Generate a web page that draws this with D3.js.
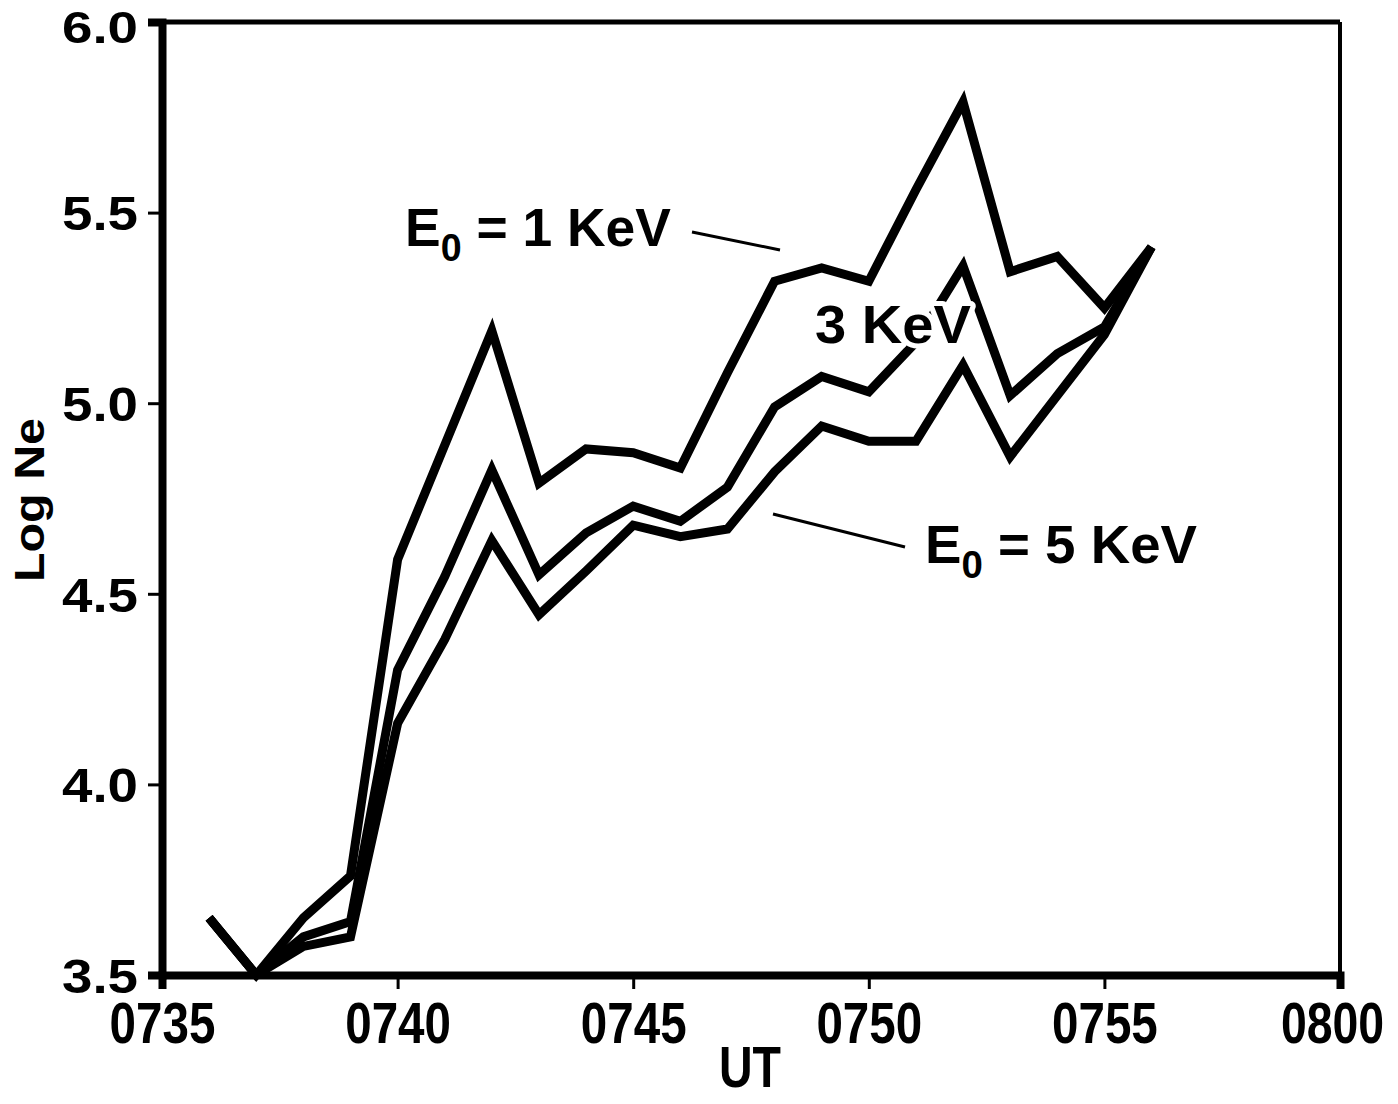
<!DOCTYPE html>
<html>
<head>
<meta charset="utf-8">
<script src="https://cdn.jsdelivr.net/npm/d3@7"></script>
<style>
  html, body { margin: 0; padding: 0; background: #fff; }
  svg text { font-family: "Liberation Sans", Arial, Helvetica, sans-serif; font-weight: bold; fill: #000; }
</style>
</head>
<body>
<svg id="chart" width="1398" height="1104"></svg>
<script>
// Minutes after 0735 UT
const times = [1, 2, 3, 4, 5, 6, 7, 8, 9, 10, 11, 12, 13, 14, 15, 16, 17, 18, 19, 20, 21];
const ne1keV = [3.65, 3.50, 3.65, 3.76, 4.59, 4.89, 5.19, 4.79, 4.88, 4.87, 4.83, 5.08, 5.32, 5.355, 5.32, 5.56, 5.79, 5.345, 5.385, 5.25, 5.41];
const ne3keV = [3.65, 3.50, 3.60, 3.64, 4.30, 4.545, 4.825, 4.55, 4.66, 4.73, 4.69, 4.78, 4.99, 5.07, 5.03, 5.16, 5.36, 5.02, 5.13, 5.20, 5.41];
const ne5keV = [3.65, 3.50, 3.575, 3.60, 4.16, 4.38, 4.64, 4.445, 4.56, 4.68, 4.65, 4.67, 4.82, 4.94, 4.90, 4.90, 5.10, 4.86, 5.02, 5.18, 5.41];
const xTickValues = [0, 5, 10, 15, 20, 25];
const xTickLabels = ["0735", "0740", "0745", "0750", "0755", "0800"];
const yTickValues = [3.5, 4.0, 4.5, 5.0, 5.5, 6.0];
const yTickLabels = ["3.5", "4.0", "4.5", "5.0", "5.5", "6.0"];

const svg = d3.select("#chart");
const L = 162, R = 1340, T = 22, B = 975;
const x = d3.scaleLinear().domain([0, 25]).range([L, R]);
const y = d3.scaleLinear().domain([3.5, 6.0]).range([B, T]);

// data lines
const line = d3.line().x((d, i) => x(times[i])).y(d => y(d));
[ne5keV, ne3keV, ne1keV].forEach(s => {
  svg.append("path").attr("d", line(s))
    .attr("fill", "none").attr("stroke", "#000")
    .attr("stroke-width", 9).attr("stroke-linejoin", "miter").attr("stroke-miterlimit", 6);
});

// frame
svg.append("line").attr("x1", L).attr("x2", R).attr("y1", T).attr("y2", T).attr("stroke", "#000").attr("stroke-width", 5);
svg.append("line").attr("x1", R).attr("x2", R).attr("y1", T).attr("y2", B).attr("stroke", "#000").attr("stroke-width", 4);

// axes
const xAxis = d3.axisBottom(x).tickValues(xTickValues).tickFormat((d, i) => xTickLabels[i]).tickSize(14).tickPadding(14);
const gx = svg.append("g").attr("transform", `translate(0,${B})`).call(xAxis);
gx.select(".domain").attr("stroke", "#000").attr("stroke-width", 8);
gx.selectAll(".tick line").attr("stroke", "#000").attr("stroke-width", 3);
gx.selectAll(".tick text")
  .attr("font-size", 58).attr("dy", "0.69em")
  .attr("transform", (d, i) => i === 5 ? "translate(-8,0) scale(0.8,1)" : "scale(0.82,1)")
  .style("font-family", '"Liberation Sans", Arial, sans-serif').style("font-weight", "bold").attr("fill", "#000");

const yAxis = d3.axisLeft(y).tickValues(yTickValues).tickFormat((d, i) => yTickLabels[i]).tickSize(14).tickPadding(10);
const gy = svg.append("g").attr("transform", `translate(${L},0)`).call(yAxis);
gy.select(".domain").attr("stroke", "#000").attr("stroke-width", 8);
gy.selectAll(".tick line").attr("stroke", "#000").attr("stroke-width", 3);
gy.selectAll(".tick text")
  .attr("font-size", 48).attr("dy", "0.36em")
  .attr("textLength", 76).attr("lengthAdjust", "spacingAndGlyphs")
  .style("font-family", '"Liberation Sans", Arial, sans-serif').style("font-weight", "bold").attr("fill", "#000");
// top label: keep fully inside the picture
gy.selectAll(".tick").filter((d, i) => i === 5).select("text")
  .attr("font-size", 45).attr("dy", 20);

// axis titles
svg.append("text").attr("x", 750).attr("y", 1087).attr("text-anchor", "middle")
  .attr("font-size", 58).attr("textLength", 62).attr("lengthAdjust", "spacingAndGlyphs").text("UT");
svg.append("text").attr("transform", "translate(44,500) rotate(-90)").attr("text-anchor", "middle")
  .attr("font-size", 42).attr("textLength", 164).attr("lengthAdjust", "spacingAndGlyphs").text("Log Ne");

// annotations
function eLabel(xp, yp, num, w) {
  const t = svg.append("text").attr("x", xp).attr("y", yp).attr("font-size", 54)
    .attr("textLength", w).attr("lengthAdjust", "spacingAndGlyphs");
  t.append("tspan").text("E");
  t.append("tspan").attr("font-size", 38).attr("dy", 15).text("0");
  t.append("tspan").attr("dy", -15).text(" = " + num + " KeV");
}
eLabel(405, 246, "1", 266);
eLabel(925, 563, "5", 272);

svg.append("text").attr("x", 815).attr("y", 343).attr("font-size", 54)
  .attr("textLength", 156).attr("lengthAdjust", "spacingAndGlyphs")
  .attr("stroke", "#fff").attr("stroke-width", 10).attr("paint-order", "stroke").attr("stroke-linejoin", "round")
  .text("3 KeV");

// leader lines
svg.append("line").attr("x1", 692).attr("y1", 232).attr("x2", 780).attr("y2", 250).attr("stroke", "#000").attr("stroke-width", 3);
svg.append("line").attr("x1", 773).attr("y1", 514).attr("x2", 905).attr("y2", 547).attr("stroke", "#000").attr("stroke-width", 3);
</script>
</body>
</html>
